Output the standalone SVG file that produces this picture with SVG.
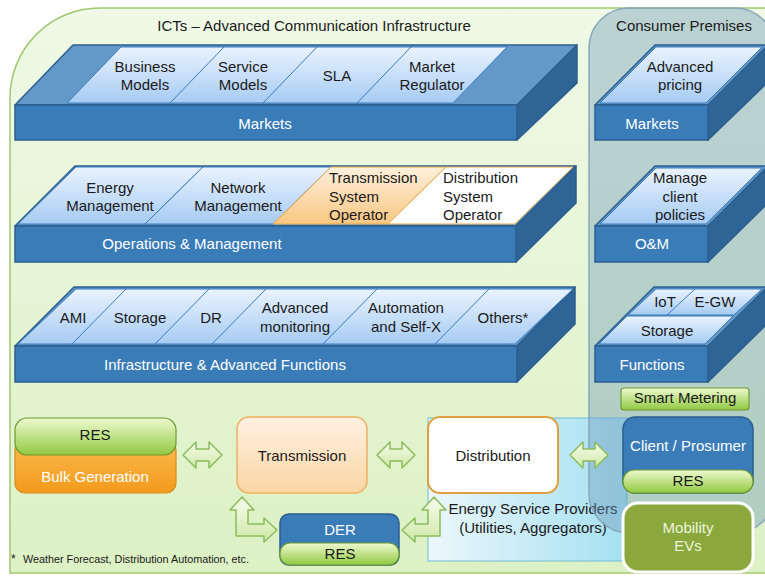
<svg xmlns="http://www.w3.org/2000/svg" width="765" height="576" viewBox="0 0 765 576">
<defs>
<linearGradient id="gBg" x1="0" y1="0" x2="0" y2="1"><stop offset="0" stop-color="#eff9e6"/><stop offset="1" stop-color="#dcf1c4"/></linearGradient>
<linearGradient id="gEsp" x1="0" y1="0" x2="1" y2="0"><stop offset="0" stop-color="#ecf7fc"/><stop offset="1" stop-color="#a4e0f1"/></linearGradient>
<linearGradient id="gPanel" x1="0" y1="0" x2="0" y2="1"><stop offset="0" stop-color="#eaf3fe"/><stop offset="1" stop-color="#a6cbf3"/></linearGradient>
<linearGradient id="gOrangePanel" x1="0" y1="0" x2="0" y2="1"><stop offset="0" stop-color="#fff0dc"/><stop offset="1" stop-color="#f9c783"/></linearGradient>
<linearGradient id="gGreen" x1="0" y1="0" x2="0" y2="1"><stop offset="0" stop-color="#eefad0"/><stop offset="1" stop-color="#90c840"/></linearGradient>
<linearGradient id="gBulk" x1="0" y1="0" x2="0" y2="1"><stop offset="0" stop-color="#fbbb50"/><stop offset="1" stop-color="#f39a1c"/></linearGradient>
<linearGradient id="gTrans" x1="0" y1="0" x2="0" y2="1"><stop offset="0" stop-color="#fef1e2"/><stop offset="1" stop-color="#fbd6a4"/></linearGradient>
<linearGradient id="gArrow" x1="0" y1="0" x2="0" y2="1"><stop offset="0" stop-color="#f6fcec"/><stop offset="1" stop-color="#cfe8a8"/></linearGradient>
</defs>
<style>
text{font-family:"Liberation Sans",Arial,sans-serif;font-size:15px;fill:#1a1a1a;text-anchor:middle}
.w{fill:#ffffff}
.l{text-anchor:start}
.top{fill:#6399c9;stroke:#2b5f8f;stroke-width:1.5;stroke-linejoin:round}
.front{fill:#3a7cb8;stroke:#2b5f8f;stroke-width:1.5}
.side{fill:#2f6496;stroke:#2b5f8f;stroke-width:1.5;stroke-linejoin:round}
.panel{fill:url(#gPanel);stroke:#3d7cbc;stroke-width:1}
.div{stroke:#3d7cbc;stroke-width:1;fill:none}
.pill{fill:url(#gGreen);stroke:#6f9a30;stroke-width:1.2}
.arr{fill:url(#gArrow);stroke:#8cbc5c;stroke-width:1.5;stroke-linejoin:round}
.blue{fill:#3a7cb8;stroke:#2a5e90;stroke-width:1.5}
</style>
<rect width="765" height="576" fill="#ffffff"/>
<g id="ict-area">
<path d="M10,573 L10,98 A90,90 0 0 1 100,8 L770,8 L770,573 Z" fill="url(#gBg)" stroke="#a0c870" stroke-width="1.5"/>
<text x="314" y="31">ICTs – Advanced Communication Infrastructure</text>
</g>
<g id="esp">
<rect x="428" y="418" width="199" height="143" fill="url(#gEsp)" stroke="#72bcd8" stroke-width="1"/>
<text x="533" y="514">Energy Service Providers</text>
<text x="533" y="533">(Utilities, Aggregators)</text>
</g>
<g id="consumer-premises">
<rect x="589" y="8" width="186" height="525" rx="40" fill="#6f98b8" fill-opacity="0.4" stroke="#87a8bc" stroke-width="1.5"/>
<text x="684" y="31">Consumer Premises</text>
</g>
<g id="markets-layer">
<polygon class="top" points="15,105 73,45 577,45 517,105"/>
<polygon class="side" points="517,105 577,45 577,83 517,140"/>
<rect class="front" x="15" y="105" width="502" height="35"/>
<polygon class="panel" points="67,103 121,47 507,47 453,103"/>
<line class="div" x1="170" y1="103" x2="224" y2="47"/>
<line class="div" x1="263" y1="103" x2="317" y2="47"/>
<line class="div" x1="357" y1="103" x2="411" y2="47"/>
<text x="145" y="72">Business</text><text x="145" y="90">Models</text>
<text x="243" y="72">Service</text><text x="243" y="90">Models</text>
<text x="337" y="81">SLA</text>
<text x="432" y="72">Market</text><text x="432" y="90">Regulator</text>
<text class="w" x="265" y="129">Markets</text>
</g>
<g id="om-layer">
<polygon class="top" points="15,226 75,166 576,166 516,226"/>
<polygon class="side" points="516,226 576,166 576,203 516,262"/>
<rect class="front" x="15" y="226" width="501" height="36"/>
<polygon class="panel" points="18,224 76,167 203,167 145,224"/>
<polygon class="panel" points="145,224 203,167 331,167 273,224"/>
<polygon fill="url(#gOrangePanel)" stroke="#e8a848" stroke-width="1" points="273,224 331,167 446,167 388,224"/>
<polygon fill="#ffffff" stroke="#e8a848" stroke-width="1" points="388,224 446,167 573,167 515,224"/>
<text x="110" y="193">Energy</text><text x="110" y="211">Management</text>
<text x="238" y="193">Network</text><text x="238" y="211">Management</text>
<text class="l" x="329" y="183">Transmission</text><text class="l" x="329" y="202">System</text><text class="l" x="329" y="220">Operator</text>
<text class="l" x="443" y="183">Distribution</text><text class="l" x="443" y="202">System</text><text class="l" x="443" y="220">Operator</text>
<text class="w" x="192" y="249">Operations &amp; Management</text>
</g>
<g id="infra-layer">
<polygon class="top" points="15,346 74,287 575,287 517,346"/>
<polygon class="side" points="517,346 575,287 575,324 517,382"/>
<rect class="front" x="15" y="346" width="502" height="36"/>
<polygon class="panel" points="18,344 76,289 573,289 515,344"/>
<line class="div" x1="72" y1="344" x2="126" y2="289"/>
<line class="div" x1="155" y1="344" x2="209" y2="289"/>
<line class="div" x1="212" y1="344" x2="266" y2="289"/>
<line class="div" x1="323" y1="344" x2="377" y2="289"/>
<line class="div" x1="435" y1="344" x2="489" y2="289"/>
<text x="73" y="323">AMI</text>
<text x="140" y="323">Storage</text>
<text x="211" y="323">DR</text>
<text x="295" y="313">Advanced</text><text x="295" y="332">monitoring</text>
<text x="406" y="313">Automation</text><text x="406" y="332">and Self-X</text>
<text x="503" y="323">Others*</text>
<text class="w" x="225" y="370">Infrastructure &amp; Advanced Functions</text>
</g>
<g id="cp-markets">
<polygon class="top" points="595,105 655,45 775,45 708,105"/>
<polygon class="side" points="708,105 768,45 768,82 708,140"/>
<rect class="front" x="595" y="105" width="113" height="35"/>
<polygon class="panel" points="600,103 656,47 762,47 706,103"/>
<text x="680" y="72">Advanced</text><text x="680" y="90">pricing</text>
<text class="w" x="652" y="129">Markets</text>
</g>
<g id="cp-om">
<polygon class="top" points="595,226 655,166 775,166 708,226"/>
<polygon class="side" points="708,226 768,166 768,203 708,262"/>
<rect class="front" x="595" y="226" width="113" height="36"/>
<polygon class="panel" points="600,224 656,168 762,168 706,224"/>
<text x="680" y="183">Manage</text><text x="680" y="202">client</text><text x="680" y="220">policies</text>
<text class="w" x="652" y="249">O&amp;M</text>
</g>
<g id="cp-functions">
<polygon class="top" points="595,346 654,287 775,287 708,346"/>
<polygon class="side" points="708,346 767,287 767,324 708,382"/>
<rect class="front" x="595" y="346" width="113" height="36"/>
<polygon class="panel" points="599,344 627,316 733,316 705,344"/>
<polygon class="panel" points="628,315 656,289 762,289 734,315"/>
<line class="div" x1="667" y1="315" x2="695" y2="289"/>
<text x="665" y="307">IoT</text>
<text x="715" y="307">E-GW</text>
<text x="667" y="336">Storage</text>
<text class="w" x="652" y="370">Functions</text>
</g>
<g id="smart-metering">
<rect x="621" y="388" width="128" height="22" rx="3" class="pill"/>
<text x="685" y="403">Smart Metering</text>
</g>
<g id="bulk-generation">
<rect x="15" y="440" width="161" height="53" rx="10" fill="url(#gBulk)" stroke="#d88a20" stroke-width="1.2"/>
<rect x="15" y="418" width="161" height="37" rx="12" class="pill"/>
<text x="95" y="440">RES</text>
<text class="w" x="95" y="482">Bulk Generation</text>
</g>
<g id="transmission">
<rect x="237" y="417" width="130" height="76" rx="12" fill="url(#gTrans)" stroke="#f0b060" stroke-width="1.5"/>
<text x="302" y="461">Transmission</text>
</g>
<g id="distribution">
<rect x="428" y="417" width="130" height="76" rx="12" fill="#ffffff" stroke="#e0a040" stroke-width="2"/>
<text x="493" y="461">Distribution</text>
</g>
<g id="client-prosumer">
<rect x="623" y="417" width="130" height="76" rx="12" class="blue"/>
<rect x="623" y="470" width="130" height="23" rx="11" class="pill"/>
<text class="w" x="688" y="451">Client / Prosumer</text>
<text x="688" y="486">RES</text>
</g>
<g id="der">
<rect x="280" y="514" width="119" height="51" rx="9" class="blue"/>
<rect x="280" y="543" width="119" height="22" rx="10" class="pill"/>
<text class="w" x="340" y="535">DER</text>
<text x="340" y="559">RES</text>
</g>
<g id="mobility">
<rect x="623" y="503" width="130" height="69" rx="15" fill="#8aa83c" stroke="#ffffff" stroke-width="3"/>
<text x="688" y="533" fill="#eef4dc" style="fill:#eef4dc">Mobility</text>
<text x="688" y="551" style="fill:#eef4dc">EVs</text>
</g>
<g id="connectors">
<path class="arr" d="M183,455 L196,442 L196,449 L209,449 L209,442 L222,455 L209,468 L209,461 L196,461 L196,468 Z"/>
<path class="arr" d="M377,455 L390,442 L390,449 L402,449 L402,442 L415,455 L402,468 L402,461 L390,461 L390,468 Z"/>
<path class="arr" d="M570,455 L583,442 L583,449 L595,449 L595,442 L608,455 L595,468 L595,461 L583,461 L583,468 Z"/>
<path class="arr" d="M242,497 L254,510 L248,510 L248,524 L264,524 L264,518 L277,530 L264,542 L264,536 L236,536 L236,510 L230,510 Z"/>
<path class="arr" d="M434,497 L446,510 L440,510 L440,536 L415,536 L415,542 L402,530 L415,518 L415,524 L428,524 L428,510 L422,510 Z"/>
</g>
<g id="footnote">
<text class="l" x="11" y="563" style="font-size:12px">*</text>
<text class="l" x="23" y="563" style="font-size:11px" textLength="226" lengthAdjust="spacingAndGlyphs">Weather Forecast, Distribution Automation, etc.</text>
</g>
</svg>
